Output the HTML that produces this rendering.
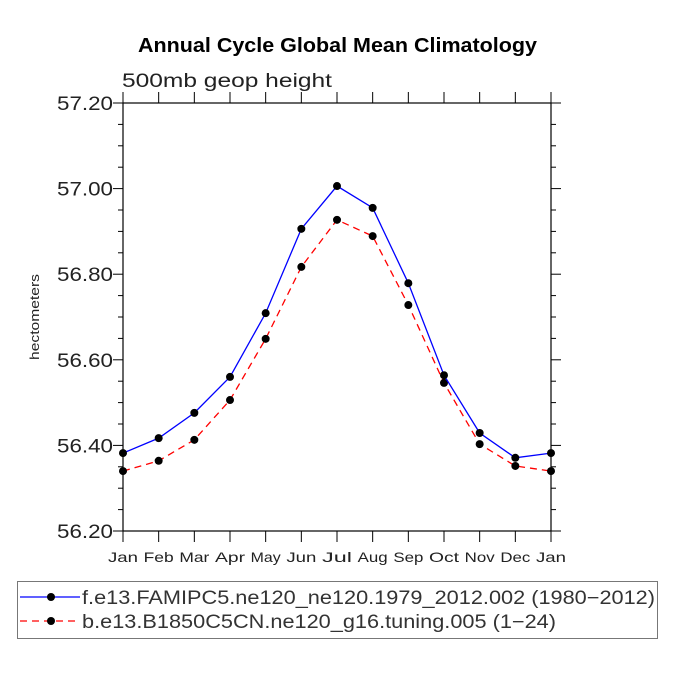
<!DOCTYPE html>
<html><head><meta charset="utf-8"><style>body{margin:0;background:#fff}svg{display:block}</style></head>
<body>
<svg id="chart" width="675" height="675" viewBox="0 0 675 675" xmlns="http://www.w3.org/2000/svg" font-family="'Liberation Sans', sans-serif">
<rect width="675" height="675" fill="#fff"/>
<text x="138" y="52" font-size="20" font-weight="bold" textLength="399" lengthAdjust="spacingAndGlyphs">Annual Cycle Global Mean Climatology</text>
<text x="122" y="87" font-size="19" fill="#222" textLength="210" lengthAdjust="spacingAndGlyphs">500mb geop height</text>
<text transform="translate(39,317) rotate(-90)" text-anchor="middle" font-size="13" fill="#222" textLength="86" lengthAdjust="spacingAndGlyphs">hectometers</text>
<g id="axes"></g>
<g id="series"></g>
<g>
<rect x="17.5" y="581.5" width="640" height="57" fill="none" stroke="#777" stroke-width="1"/>
<line x1="20" y1="597" x2="80" y2="597" stroke="#0000ff" stroke-width="1.3"/>
<circle cx="51" cy="597" r="4" fill="#000"/>
<text x="82" y="604" font-size="19" fill="#333" textLength="573" lengthAdjust="spacingAndGlyphs">f.e13.FAMIPC5.ne120_ne120.1979_2012.002 (1980−2012)</text>
<line x1="20" y1="621" x2="80" y2="621" stroke="#ff0000" stroke-width="1.3" stroke-dasharray="7,5"/>
<circle cx="51" cy="621" r="4" fill="#000"/>
<text x="82" y="628" font-size="19" fill="#333" textLength="474" lengthAdjust="spacingAndGlyphs">b.e13.B1850C5CN.ne120_g16.tuning.005 (1−24)</text>
</g>
</svg>
<script>
const months = ["Jan","Feb","Mar","Apr","May","Jun","Jul","Aug","Sep","Oct","Nov","Dec","Jan"];
const yTicks = ["56.20","56.40","56.60","56.80","57.00","57.20"];
const blueValues = [56.382,56.417,56.476,56.560,56.709,56.906,57.006,56.955,56.779,56.564,56.429,56.371,56.382];
const redValues = [56.340,56.364,56.413,56.506,56.649,56.817,56.927,56.889,56.728,56.546,56.403,56.352,56.340];
const X0=123,X1=551,Y0=531,Y1=103,YMIN=56.2,YMAX=57.2;
const NS="http://www.w3.org/2000/svg";
function xs(i){return X0+(X1-X0)*i/(months.length-1);}
function ys(v){return Y0-(v-YMIN)/(YMAX-YMIN)*(Y0-Y1);}
function mk(t,a,p){const e=document.createElementNS(NS,t);for(const k in a)e.setAttribute(k,a[k]);p.appendChild(e);return e;}
const axes=document.getElementById('axes');
const frame=mk('rect',{x:X0,y:Y1,width:X1-X0,height:Y0-Y1,fill:'none',stroke:'#000','stroke-width':1.2},axes);


for(let v=YMIN;v<=YMAX+1e-9;v+=0.05){
  const y=ys(v);const major=Math.abs((v-YMIN)/0.2-Math.round((v-YMIN)/0.2))<1e-6;const L=major?10:5;
  mk('line',{x1:X0-L,y1:y,x2:X0,y2:y,stroke:'#000','stroke-width':1},axes);
  mk('line',{x1:X1,y1:y,x2:X1+L,y2:y,stroke:'#000','stroke-width':1},axes);
}
yTicks.forEach(s=>{
  const t=mk('text',{x:X0-10,y:ys(parseFloat(s))+7,'text-anchor':'end','font-size':19,fill:'#222',textLength:56,lengthAdjust:'spacingAndGlyphs'},axes);
  t.textContent=s;
  
  
});
months.forEach((m,i)=>{
  const x=xs(i);
  mk('line',{x1:x,y1:Y0,x2:x,y2:Y0+11,stroke:'#000','stroke-width':1},axes);
  mk('line',{x1:x,y1:Y1-11,x2:x,y2:Y1,stroke:'#000','stroke-width':1},axes);
  const t=mk('text',{x:x-15,y:Y0+31,'font-size':14,fill:'#222',textLength:30,lengthAdjust:'spacingAndGlyphs'},axes);
  t.textContent=m;
  
  
});
const ser=document.getElementById('series');
function draw(vals,color,dash,name){
  const pts=vals.map((v,i)=>xs(i)+','+ys(v)).join(' ');
  const pl=mk('polyline',{points:pts,fill:'none',stroke:color,'stroke-width':1.3},ser);
  if(dash)pl.setAttribute('stroke-dasharray',dash);
  
  
  vals.forEach((v,i)=>{
    const c=mk('circle',{cx:xs(i),cy:ys(v),r:4,fill:'#000'},ser);
    
    
  });
}
draw(redValues,'#ff0000','7,5','red-series');
draw(blueValues,'#0000ff',null,'blue-series');
</script>
</body></html>
